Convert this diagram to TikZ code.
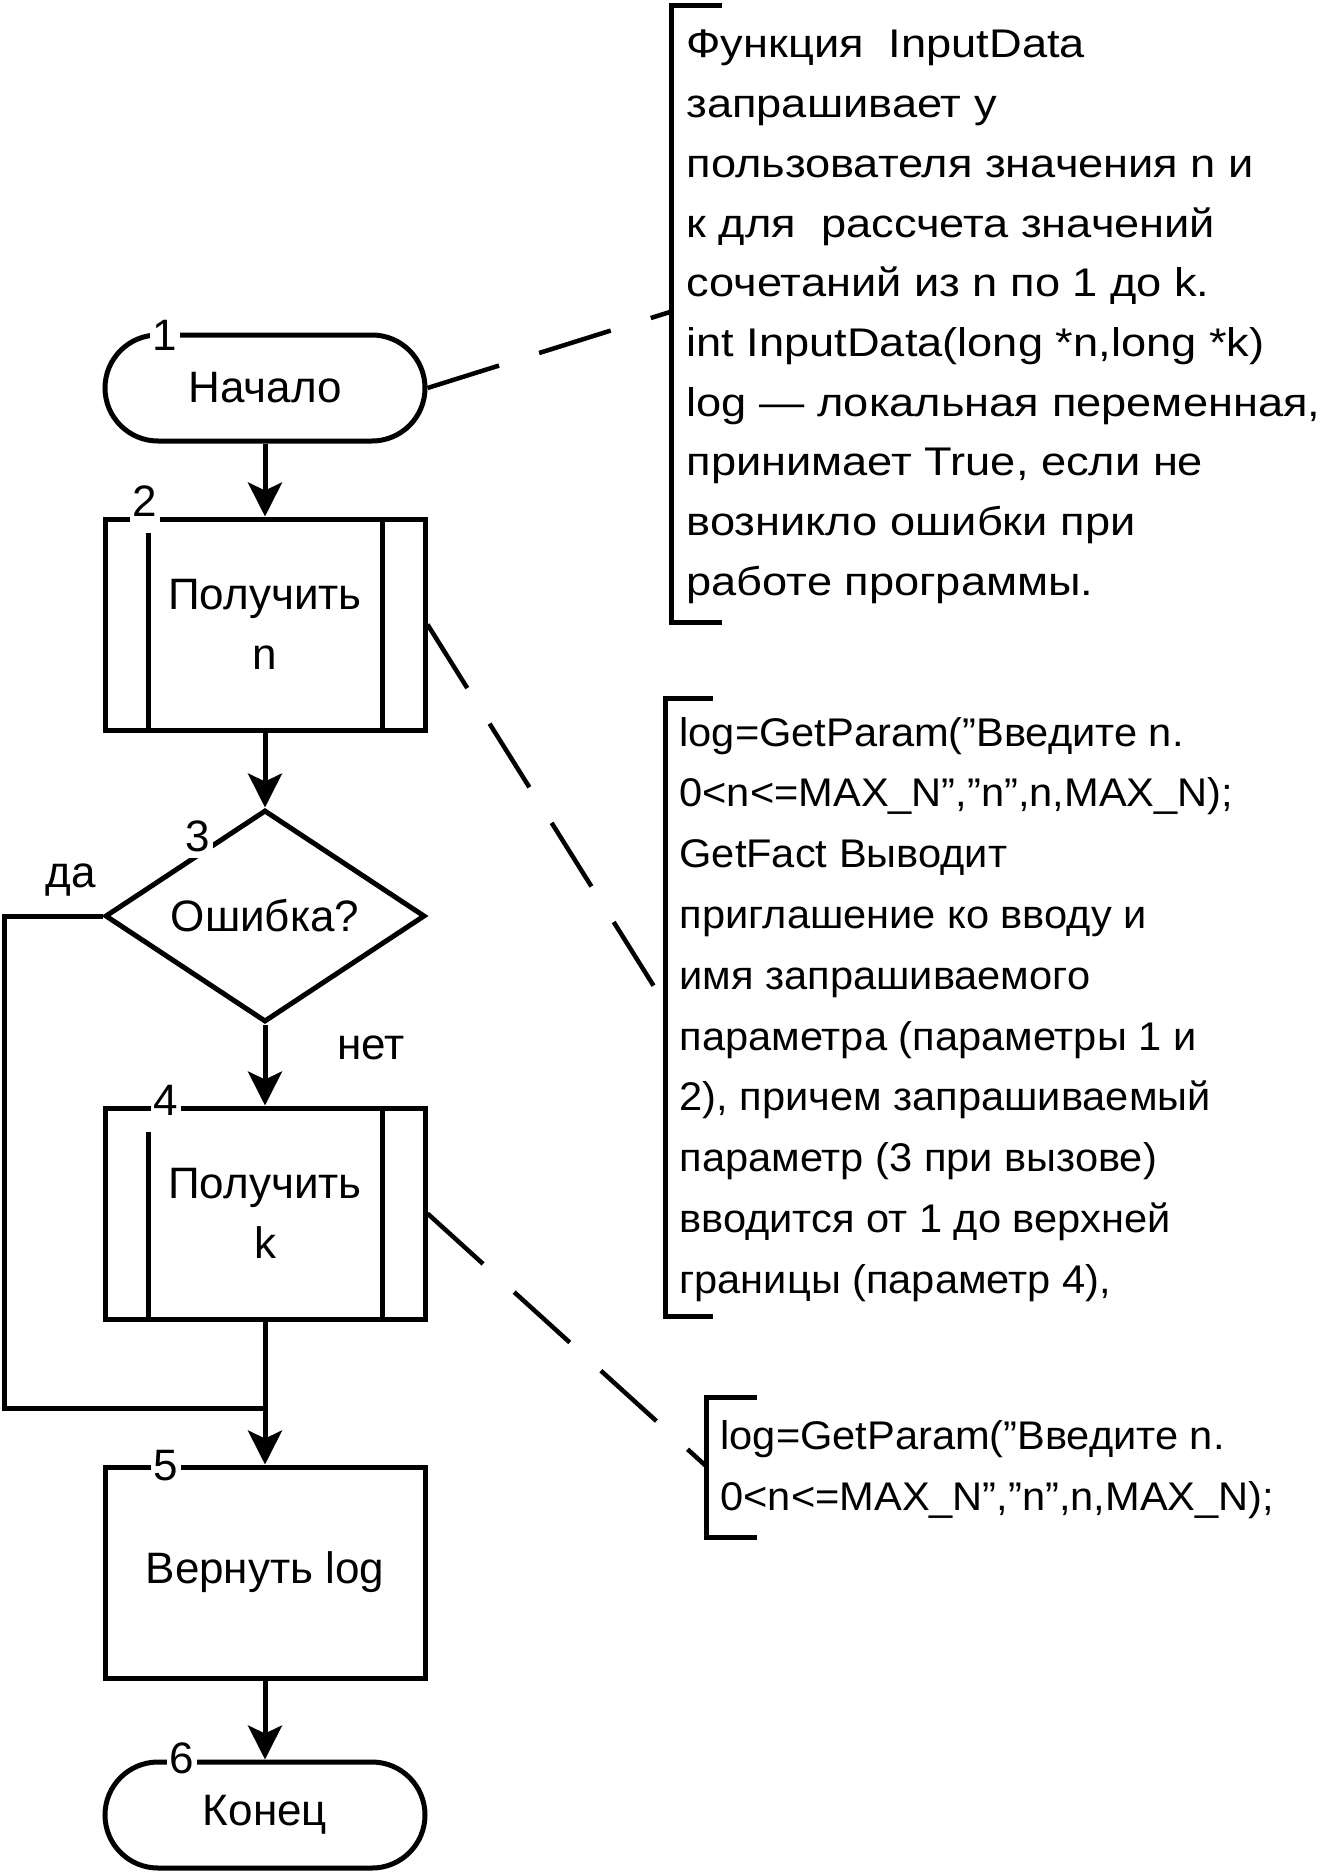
\documentclass[tikz,border=0pt]{standalone}
\usepackage{fontspec}
\setmainfont{Liberation Sans}
\newfontfamily\notefont[FakeStretch=1.13]{Liberation Sans}
\newfontfamily\codefont[FakeStretch=1.04]{Liberation Sans}
\usetikzlibrary{positioning}
\usetikzlibrary{calc}
\usetikzlibrary{shapes.geometric}
\usetikzlibrary{arrows.meta}

\begin{document}
\begin{tikzpicture}[x=1pt,y=-1pt,line width=5pt,
		>={Stealth[length=34pt 0,width=34pt 0,inset=8pt 0]}]
		\tikzstyle{flow}=[font=\fontsize{44}{60}\selectfont]
		\tikzstyle{terminal}=[draw,flow,minimum width=320pt,minimum height=106pt,rounded corners=53pt,inner sep=0pt]
		\tikzstyle{block}=[draw,flow,minimum width=320pt,minimum height=211pt,inner sep=0pt,align=center]
		\tikzstyle{decision}=[draw,flow,diamond,aspect=1.51,minimum width=320pt,minimum height=212pt,inner sep=0pt]
		\tikzstyle{num}=[flow,fill=white,inner xsep=3pt,inner ysep=6pt]
		\tikzstyle{note}=[font=\notefont\fontsize{40}{60}\selectfont,anchor=base west,inner sep=0pt]
		\tikzstyle{code}=[font=\codefont\fontsize{40}{60}\selectfont,anchor=base west,inner sep=0pt]
		\tikzstyle{noteline}=[line width=4.5pt,dash pattern=on 75pt off 42pt]
		
		\fill[white] (0,0) rectangle (1321,1876);
		\useasboundingbox (0,0) rectangle (1321,1876);
		
		\node[terminal]    (Start)                         at (265,388) {Начало};
		\node[block]       (GetN)    [below=73pt of Start]   {Получить\\n};
		\node[decision]    (Error)   [below=75pt of GetN]    {Ошибка?};
		\node[block]       (GetK)    [below=81pt of Error]   {Получить\\k};
		\node[block]       (Return)  [below=143pt of GetK]   {Вернуть log};
		\node[terminal]    (End)     [below=79pt of Return]  {Конец};
		
		% inner lines of the predefined process blocks
		\foreach \b/\d in {GetN/16,GetK/26}
		{
			\draw ($(\b.north west)+(45.5,\d)$) -- ($(\b.south west)+(45.5,0)$);
			\draw ($(\b.north east)+(-45.5,0)$) -- ($(\b.south east)+(-45.5,0)$);
		}
		
		% block numbers
		\node[num] (N1) at (165,335)  {1};
		\node[num] (N2) at (145,501)  {2};
		\node[num] (N3) at (198,836)  {3};
		\node[num] (N4) at (166,1100) {4};
		\node[num] (N5) at (166,1466) {5};
		\node[num] (N6) at (182,1758) {6};
		
		\node[flow,anchor=base] (Yes) at (71,887)  {да};
		\node[flow,anchor=base] (No)  at (371,1059) {нет};
		
		\coordinate (Left)  at (4,1408);
		\coordinate (Merge) at (265,1408);
		
		\draw[->] (Start) -- (GetN);
		\draw[->] (GetN) -- (Error);
		\draw[->] (Error) -- (GetK);
		\draw[->] (GetK) -- (Return);
		\draw[->] (Return) -- (End);
		\draw (Error.west) -| (Left) -- (Merge);
		
		% comments
		\coordinate (C1) at (670,312);
		\coordinate (C2) at (665,1004);
		\coordinate (C3) at (706,1466);
		\draw[noteline] (Start.east) -- (C1);
		\draw[noteline] (GetN.east) -- (C2);
		\draw[noteline] (GetK.east) -- (C3);
		
		\draw (722,6) -- (671,6) -- (671,622) -- (722,622);
		\draw (713,698) -- (665,698) -- (665,1316) -- (713,1316);
		\draw (757,1397) -- (706,1397) -- (706,1537) -- (757,1537);
		
		\foreach \t [count=\i] in {{Функция~~InputData},{запрашивает у},{пользователя значения n и},
			{к для~~рассчета значений},{сочетаний из n по 1 до k.},{int InputData(long *n,long *k)},
			{log — локальная переменная,},{принимает True, если не},{возникло ошибки при},
			{работе программы.}}
		\node[note] (A\i) at (684,{58+59.7*(\i-1)}) {\t};
		
		\foreach \t [count=\i] in {{log=GetParam(”Введите n.},{0<n<=MAX\_N”,”n”,n,MAX\_N);},
			{GetFact Выводит},{приглашение ко вводу и},{имя запрашиваемого},
			{параметра (параметры 1 и},{2), причем запрашиваемый},{параметр (3 при вызове)},
			{вводится от 1 до верхней},{границы (параметр 4),}}
		\node[code] (B\i) at (677,{746+60.8*(\i-1)}) {\t};
		
		\node[code] (C3a) at (718,1449) {log=GetParam(”Введите n.};
		\node[code] (C3b) at (718,1510) {0<n<=MAX\_N”,”n”,n,MAX\_N);};
		
\end{tikzpicture}
\end{document}
